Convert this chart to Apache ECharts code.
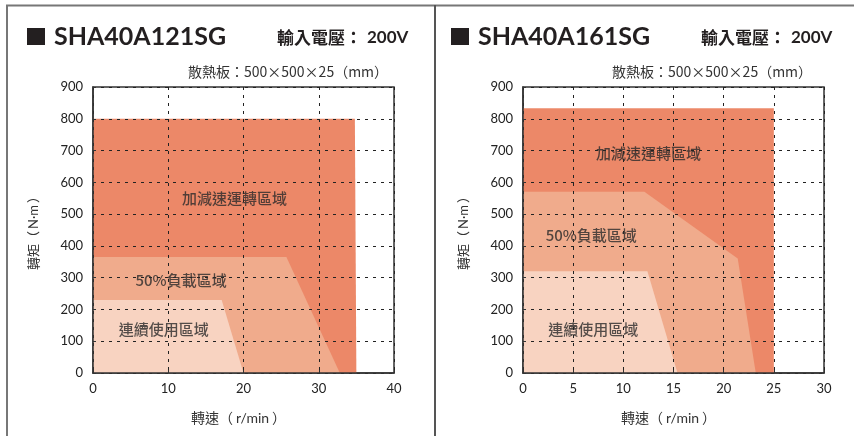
<!DOCTYPE html>
<html>
<head>
<meta charset="utf-8">
<script src="https://cdn.jsdelivr.net/npm/echarts@6/dist/echarts.min.js"></script>
<style>
  html, body { margin: 0; padding: 0; background: #fff; }
  #chart { width: 854px; height: 436px; }
</style>
</head>
<body>
<div id="chart"></div>
<script>
// Operating regions (speed r/min, torque N·m), drawn as filled outlines
const modelNames = ['SHA40A121SG', 'SHA40A161SG'];
const regionNames = ['加減速運轉區域', '50%負載區域', '連續使用區域'];

// SHA40A121SG
const accelA = [[0, 800], [34.8, 800], [35, 0]];
const halfLoadA = [[0, 365], [25.7, 365], [32.8, 0]];
const continuousA = [[0, 230], [17.1, 230], [20, 0]];

// SHA40A161SG
const accelB = [[0, 833], [25, 833], [25, 0]];
const halfLoadB = [[0, 570], [12.1, 570], [21.4, 360], [23.2, 0]];
const continuousB = [[0, 320], [12.4, 320], [15.4, 0]];

// Axis ranges
const speedMaxA = 40, speedStepA = 10;
const speedMaxB = 30, speedStepB = 5;
const torqueMax = 900, torqueStep = 100;

const regionColors = ['#EC8868', '#F0AB8C', '#F8D3C1'];
const cjk = '"Noto Sans CJK TC", "Noto Sans", sans-serif';
const num = 'Lato, "Noto Sans", sans-serif';

// label anchor points inside each region, in data units
const labelSpotsA = [[18.8, 551], [11.7, 293], [9.4, 136]];
const labelSpotsB = [[12.5, 692], [6.8, 434], [7.0, 139]];

const chart = echarts.init(document.getElementById('chart'), null, { renderer: 'canvas' });

const grids = [
  { left: 93, top: 87, width: 301, height: 286 },
  { left: 523, top: 87, width: 301, height: 286 }
];

function xAxisFor(i, max, step) {
  return {
    type: 'value', gridIndex: i, min: 0, max: max, interval: step, z: 5,
    name: '轉速（{u|r/min}）', nameLocation: 'middle', nameGap: 38,
    nameTextStyle: { fontFamily: cjk, fontSize: 14, color: '#333', padding: [0, 10, 0, 0],
      rich: { u: { fontFamily: num, fontSize: 14, color: '#333', padding: [0, 3, 0, 3] } } },
    axisLine: { lineStyle: { color: '#333', width: 1.5 } },
    axisTick: { show: true, inside: true, length: 3, lineStyle: { color: '#333' } },
    axisLabel: { fontFamily: num, fontSize: 13, color: '#222', margin: 9 },
    splitLine: { show: true, lineStyle: { color: '#222', width: 1, type: [3, 5] } }
  };
}

function yAxisFor(i) {
  return {
    type: 'value', gridIndex: i, min: 0, max: torqueMax, interval: torqueStep, z: 5,
    name: '轉矩（{u|N·m}）', nameLocation: 'middle', nameGap: 53, nameRotate: 90,
    nameTextStyle: { fontFamily: cjk, fontSize: 13, color: '#333',
      rich: { u: { fontFamily: num, fontSize: 13, color: '#333', padding: [0, 2, 0, 2] } } },
    axisLine: { lineStyle: { color: '#333', width: 1.5 } },
    axisTick: { show: true, inside: true, length: 3, lineStyle: { color: '#333' } },
    axisLabel: { fontFamily: num, fontSize: 13, color: '#222', margin: 10 },
    splitLine: { show: true, lineStyle: { color: '#222', width: 1, type: [3, 5] } }
  };
}

function regionSeries(i, data, color) {
  return {
    type: 'line', xAxisIndex: i, yAxisIndex: i, data: data,
    symbol: 'none', silent: true, animation: false,
    lineStyle: { width: 0, opacity: 0 },
    areaStyle: { color: color, opacity: 1 }
  };
}

function labelSeries(i, spots) {
  return {
    type: 'scatter', xAxisIndex: i, yAxisIndex: i, symbolSize: 0, silent: true,
    animation: false, z: 6,
    data: spots.map((p, k) => ({ value: p, name: regionNames[k] })),
    label: { show: true, position: 'inside', formatter: '{b}',
      fontFamily: cjk, fontSize: 15, fontWeight: 500, color: '#2a2a2a' }
  };
}

function headerFor(x0, model) {
  return [
    { type: 'rect', shape: { x: x0 + 20, y: 28, width: 18, height: 17 },
      style: { fill: '#231f20' } },
    { type: 'text', x: x0 + 47, y: 37,
      style: { text: model, fontFamily: 'Lato, "Noto Sans", sans-serif', fontWeight: 'bold',
        fontSize: 25, fill: '#231f20', verticalAlign: 'middle' } },
    { type: 'text', x: x0 + 270, y: 38,
      style: { text: '輸入電壓：{n|200V}', fontFamily: cjk, fontWeight: 'bold',
        fontSize: 17, fill: '#231f20', verticalAlign: 'middle',
        rich: { n: { fontFamily: num, fontWeight: 'bold', fontSize: 17, fill: '#231f20',
          padding: [0, 0, 0, 5] } } } },
    { type: 'text', x: x0 + 181, y: 72,
      style: { text: '散熱板：500×500×25（mm）', fontFamily: cjk,
        fontSize: 14, fill: '#333', verticalAlign: 'middle' } }
  ];
}

const option = {
  backgroundColor: '#fff',
  animation: false,
  grid: grids.map(g => Object.assign({ show: true, borderColor: '#333', borderWidth: 1.5,
    backgroundColor: 'transparent' }, g)),
  xAxis: [xAxisFor(0, speedMaxA, speedStepA), xAxisFor(1, speedMaxB, speedStepB)],
  yAxis: [yAxisFor(0), yAxisFor(1)],
  series: [
    regionSeries(0, accelA, regionColors[0]),
    regionSeries(0, halfLoadA, regionColors[1]),
    regionSeries(0, continuousA, regionColors[2]),
    labelSeries(0, labelSpotsA),
    regionSeries(1, accelB, regionColors[0]),
    regionSeries(1, halfLoadB, regionColors[1]),
    regionSeries(1, continuousB, regionColors[2]),
    labelSeries(1, labelSpotsB)
  ],
  graphic: [
    { type: 'line', shape: { x1: 6, y1: 5.5, x2: 854, y2: 5.5 },
      style: { stroke: '#777', lineWidth: 2 } },
    { type: 'line', shape: { x1: 7, y1: 5, x2: 7, y2: 436 },
      style: { stroke: '#777', lineWidth: 2 } },
    { type: 'line', shape: { x1: 435, y1: 5, x2: 435, y2: 436 },
      style: { stroke: '#555', lineWidth: 2 } }
  ].concat(headerFor(7, modelNames[0]), headerFor(431, modelNames[1]))
};

chart.setOption(option);
</script>
</body>
</html>
